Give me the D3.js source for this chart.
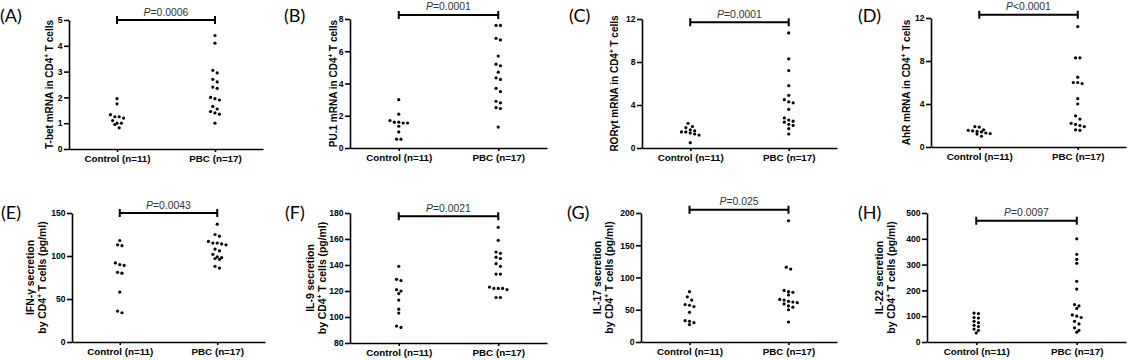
<!DOCTYPE html>
<html>
<head>
<meta charset="utf-8">
<script src="https://cdn.jsdelivr.net/npm/d3@7"></script>
<style>
  body { margin: 0; background: #fff; }
  svg { display: block; font-family: "Liberation Sans", Arial, sans-serif; }
  .axis path, .axis line { stroke: #000; stroke-width: 1.6; }
  .axis text { font-family: "Liberation Sans", Arial, sans-serif; font-weight: bold; fill: #000; }
  .axis.x text { font-size: 9.8px; }
  .axis.y text { font-size: 8.6px; }
</style>
</head>
<body>
<div id="chart"></div>
<script>
// datos
const groups = ["Control (n=11)", "PBC (n=17)"];

const tbetControl = [1.95, 1.75, 1.33, 1.25, 1.25, 1.2, 1.1, 1.0, 1.0, 0.95, 0.82];
const tbetPBC = [4.4, 4.1, 3.05, 2.95, 2.7, 2.6, 2.4, 2.35, 2.0, 1.95, 1.9, 1.65, 1.55, 1.45, 1.4, 1.35, 1.0];
const pu1Control = [3.0, 2.1, 1.7, 1.6, 1.6, 1.55, 1.55, 1.35, 1.0, 0.55, 0.55];
const pu1PBC = [7.6, 7.6, 6.8, 6.7, 5.7, 5.2, 5.1, 4.7, 4.35, 4.25, 3.7, 3.5, 2.9, 2.8, 2.5, 2.45, 1.3];
const rorControl = [2.3, 2.0, 1.9, 1.7, 1.6, 1.5, 1.5, 1.4, 1.3, 1.2, 0.5];
const rorPBC = [10.7, 8.3, 7.2, 5.8, 4.9, 4.5, 4.3, 4.2, 3.6, 2.8, 2.6, 2.5, 2.4, 2.2, 2.1, 1.8, 1.3];
const ahrControl = [1.9, 1.85, 1.6, 1.55, 1.5, 1.45, 1.4, 1.3, 1.25, 1.2, 1.0];
const ahrPBC = [11.2, 8.3, 8.3, 6.5, 6.0, 6.0, 5.9, 4.5, 4.0, 2.9, 2.6, 2.2, 2.1, 2.0, 1.9, 1.6, 1.55];
const ifnControl = [118, 112, 113, 92, 90, 89, 80, 81, 58, 36, 34];
const ifnPBC = [137, 125, 123, 117, 115, 115, 114, 113, 108, 106, 102, 99, 98, 97, 96, 88, 86];
const il9Control = [139, 129, 128, 121, 120, 118, 113, 106, 103, 93, 92];
const il9PBC = [169, 159, 150, 149, 146, 145, 141, 139, 133, 133, 123, 122, 122, 122, 121, 115, 115];
const il17Control = [78, 70, 65, 58, 57, 55, 46, 33, 32, 30, 27];
const il17PBC = [188, 116, 113, 80, 78, 77, 73, 66, 65, 63, 62, 61, 59, 56, 54, 50, 31];
const il22Control = [112, 110, 95, 93, 80, 75, 65, 60, 50, 45, 35];
const il22PBC = [400, 340, 320, 305, 235, 205, 145, 140, 130, 105, 100, 95, 80, 70, 55, 45, 38];

const letters = ["(A)", "(B)", "(C)", "(D)", "(E)", "(F)", "(G)", "(H)"];
const pTexts = ["=0.0006", "=0.0001", "=0.0001", "<0.0001", "=0.0043", "=0.0021", "=0.025", "=0.0097"];
const bracketLevels = [5, 8.25, 11.7, 12.3, 150, 177.5, 205, 470];
const yDomains = [[0, 5], [0, 8], [0, 12], [0, 12], [0, 150], [80, 180], [0, 200], [0, 500]];
const yTicks = [
  [0, 1, 2, 3, 4, 5],
  [0, 2, 4, 6, 8],
  [0, 4, 8, 12],
  [0, 4, 8, 12],
  [0, 50, 100, 150],
  [80, 100, 120, 140, 160, 180],
  [0, 50, 100, 150, 200],
  [0, 100, 200, 300, 400, 500],
];
// "^+" marca el superindice
const yLabels = [
  ["T-bet mRNA in CD4^+ T cells"],
  ["PU.1 mRNA in CD4^+ T cells"],
  ["RORγt mRNA in CD4^+ T cells"],
  ["AhR mRNA in CD4^+ T cells"],
  ["IFN-γ secretion", "by CD4^+ T cells (pg/ml)"],
  ["IL-9 secretion", "by CD4^+ T cells (pg/ml)"],
  ["IL-17 secretion", "by CD4^+ T cells (pg/ml)"],
  ["IL-22 secretion", "by CD4^+ T cells (pg/ml)"],
];
const seriesData = [
  [tbetControl, tbetPBC],
  [pu1Control, pu1PBC],
  [rorControl, rorPBC],
  [ahrControl, ahrPBC],
  [ifnControl, ifnPBC],
  [il9Control, il9PBC],
  [il17Control, il17PBC],
  [il22Control, il22PBC],
];

// posicion de cada panel (eje y, ancho, arriba, abajo, etiqueta)
const layout = [
  { axisX: 69, w: 194, top: 20, bottom: 149, labelX: [49], letterX: 0, letterY: 22 },
  { axisX: 350, w: 197, top: 19, bottom: 148, labelX: [333], letterX: 284, letterY: 22 },
  { axisX: 642, w: 195, top: 19, bottom: 148, labelX: [614], letterX: 569, letterY: 22 },
  { axisX: 931, w: 195, top: 18, bottom: 147, labelX: [906], letterX: 858, letterY: 22 },
  { axisX: 72, w: 193, top: 213, bottom: 342, labelX: [30, 42], letterX: 1, letterY: 219 },
  { axisX: 350, w: 197, top: 213, bottom: 343, labelX: [310, 322], letterX: 285, letterY: 219 },
  { axisX: 641, w: 196, top: 213, bottom: 342, labelX: [597, 609], letterX: 567, letterY: 219 },
  { axisX: 927, w: 199, top: 213, bottom: 342, labelX: [879, 891], letterX: 858, letterY: 219 },
];

const width = 1128;
const height = 360;
const dotSpacing = 4.4;

const svg = d3
  .select("div#chart")
  .append("svg")
  .attr("width", width)
  .attr("height", height);

function labelText(sel, s) {
  const parts = s.split("^+");
  sel.append("tspan").text(parts[0]);
  if (parts.length > 1) {
    sel.append("tspan").attr("dy", -4).attr("font-size", "6.5px").text("+");
    sel.append("tspan").attr("dy", 4).text(parts[1]);
  }
}

// reparte los puntos en filas como GraphPad
function swarm(values, y, cx) {
  const sorted = values.slice().sort((a, b) => b - a);
  const rows = [];
  sorted.forEach((v) => {
    const py = y(v);
    const last = rows[rows.length - 1];
    if (last && Math.abs(py - last.start) < 3.6) last.pts.push(py);
    else rows.push({ start: py, pts: [py] });
  });
  const out = [];
  rows.forEach((r) => {
    const n = r.pts.length;
    r.pts.forEach((py, i) => out.push({ x: cx + (i - (n - 1) / 2) * dotSpacing, y: py }));
  });
  return out;
}

seriesData.forEach((series, i) => {
  const L = layout[i];
  const g = svg.append("g").attr("class", "panel");

  const x = d3
    .scalePoint()
    .domain(groups)
    .range([L.axisX, L.axisX + L.w])
    .padding(0.49);
  const y = d3.scaleLinear().domain(yDomains[i]).range([L.bottom, L.top]);

  g.append("g")
    .attr("class", "axis x")
    .attr("transform", `translate(0, ${L.bottom})`)
    .call(d3.axisBottom(x).tickSize(3).tickSizeOuter(0).tickPadding(3));

  g.append("g")
    .attr("class", "axis y")
    .attr("transform", `translate(${L.axisX}, 0)`)
    .call(
      d3
        .axisLeft(y)
        .tickValues(yTicks[i])
        .tickFormat(d3.format("d"))
        .tickSize(5)
        .tickSizeOuter(0)
        .tickPadding(1.5)
    );

  // etiqueta eje y
  const midY = (L.top + L.bottom) / 2;
  yLabels[i].forEach((line, k) => {
    const t = g
      .append("text")
      .attr("transform", `translate(${L.labelX[k]}, ${midY}) rotate(-90)`)
      .attr("text-anchor", "middle")
      .attr("dy", "0.35em")
      .attr("font-size", i < 4 ? "10px" : "10.4px")
      .attr("font-weight", "bold");
    labelText(t, line);
  });

  // letra del panel
  g.append("text")
    .attr("x", L.letterX)
    .attr("y", L.letterY)
    .attr("font-family", "Lato, 'Open Sans', sans-serif")
    .attr("font-size", "18px")
    .text(letters[i]);

  // puntos
  series.forEach((vals, j) => {
    const cx = x(groups[j]);
    g.selectAll(null)
      .data(swarm(vals, y, cx))
      .enter()
      .append("circle")
      .attr("cx", (d) => d.x)
      .attr("cy", (d) => d.y)
      .attr("r", 1.6)
      .attr("fill", "#000");
  });

  // barra de significancia
  const x0 = x(groups[0]);
  const x1 = x(groups[1]);
  const by = y(bracketLevels[i]);
  g.append("path")
    .attr("d", `M${x0},${by - 4}V${by + 4}M${x0},${by}H${x1}M${x1},${by - 4}V${by + 4}`)
    .attr("stroke", "#000")
    .attr("stroke-width", 2)
    .attr("fill", "none");

  const pt = g
    .append("text")
    .attr("x", (x0 + x1) / 2)
    .attr("y", by - 4.5)
    .attr("text-anchor", "middle")
    .attr("font-size", "10.4px")
    .attr("fill", "#333");
  pt.append("tspan").attr("font-style", "italic").text("P");
  pt.append("tspan").text(pTexts[i]);
});
</script>
</body>
</html>
